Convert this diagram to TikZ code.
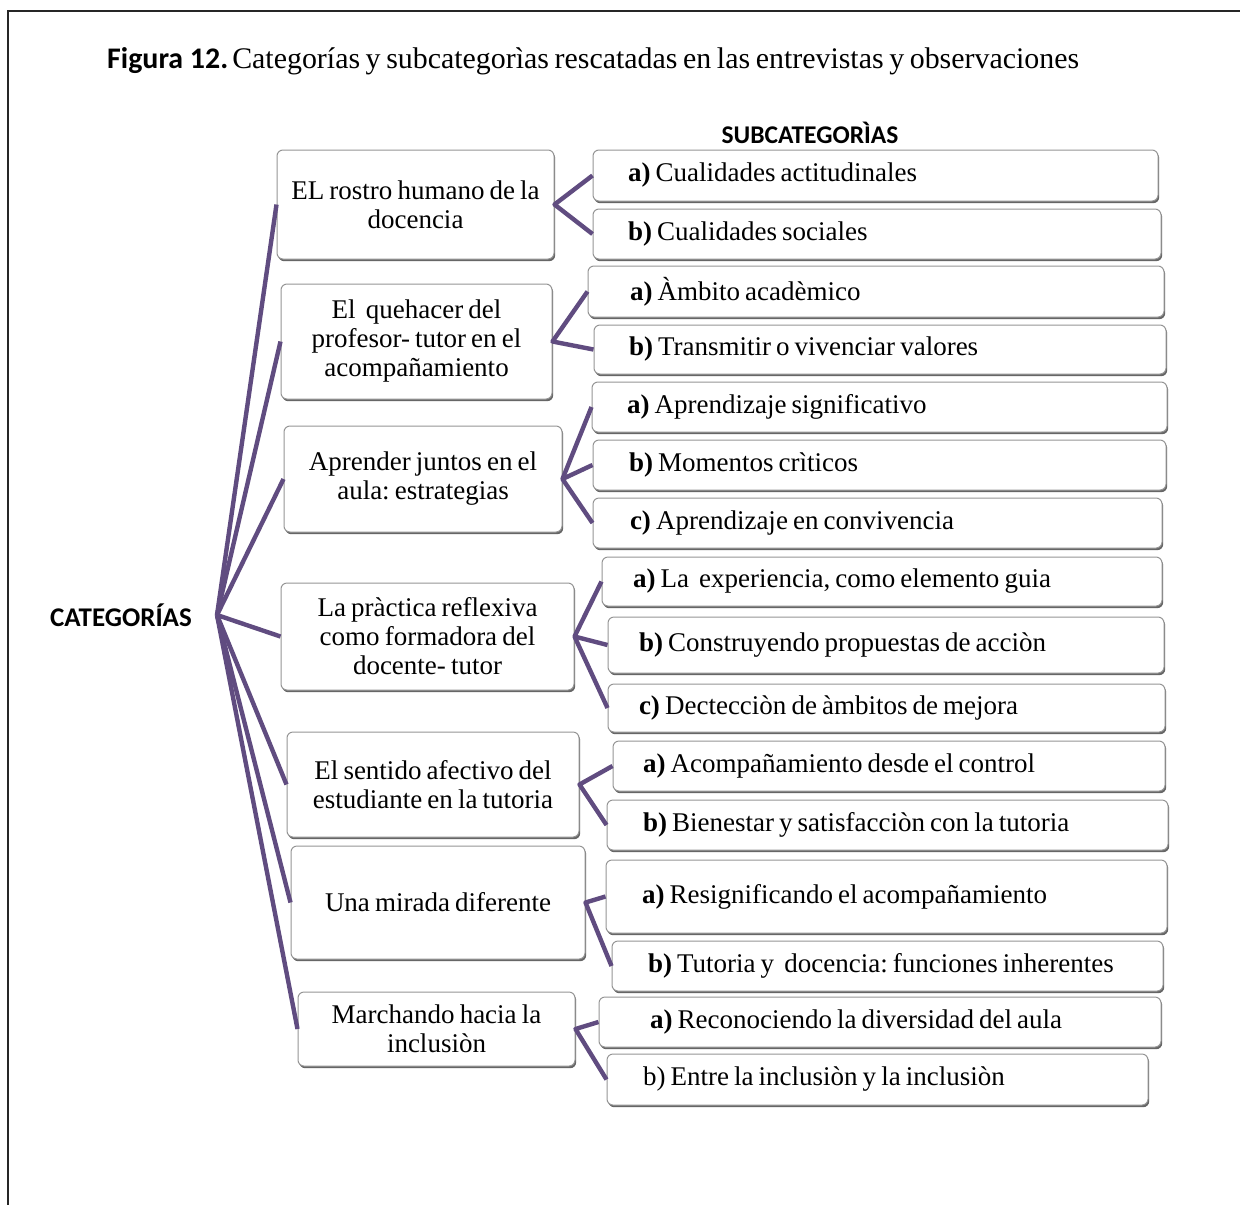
\documentclass[tikz,border=0pt]{standalone}
\usepackage{fontspec}
\setmainfont[WordSpace=0.75]{Liberation Serif}
\newfontfamily\calib{Carlito}
\usetikzlibrary{shadows}
\frenchspacing

\definecolor{linkpurple}{RGB}{96,76,128}
\definecolor{boxedge}{RGB}{150,150,150}

% plain interword spacing inside aligned node text
\newcommand\plainspaces{\spaceskip=0pt\xspaceskip=0pt\relax}

% subcategory box: name, left, top, right, bottom, text start x, text
\newcommand\subnode[7]{%
  \pgfmathsetmacro\subw{#4-#2}%
  \pgfmathsetmacro\subh{#5-#3}%
  \pgfmathsetmacro\subi{#6-#2}%
  \pgfmathsetmacro\subtw{\subw-2*\subi}%
  \node[subbox, minimum height=\subh pt, text width=\subtw pt, inner xsep=\subi pt]
    (#1) at ({(#2+#4)/2},{(#3+#5)/2}) {\plainspaces\mbox{#7}};}

% category box: name, left, top, right, bottom, text
\newcommand\catnode[6]{%
  \pgfmathsetmacro\catw{#4-#2}%
  \pgfmathsetmacro\cath{#5-#3}%
  \node[catbox, minimum width=\catw pt, minimum height=\cath pt]
    (#1) at ({(#2+#4)/2},{(#3+#5)/2}) {\plainspaces #6};}

\begin{document}
\begin{tikzpicture}[x=1pt,y=-1pt,
  basebox/.style={draw=boxedge, line width=1pt, fill=white, rounded corners=6pt,
    drop shadow={shadow xshift=1.2pt, shadow yshift=-2.2pt, fill=black!60, opacity=1}},
  catbox/.style={basebox, align=center, inner sep=0pt,
    font=\fontsize{27}{29}\selectfont},
  subbox/.style={basebox, align=left, inner ysep=0pt,
    font=\fontsize{27}{29}\selectfont},
  link/.style={draw=linkpurple, line width=4.4pt, line join=round},
  heading/.style={font=\calib\bfseries}]

\useasboundingbox (0,0) rectangle (1240,1205);
\fill[white] (0,0) rectangle (1240,1205);

% open frame
\draw[line width=2pt, black!85] (8,1205) -- (8,11) -- (1240,11);

% caption
\node[anchor=base west, inner sep=0pt, font=\fontsize{29.9}{32}\selectfont] (title) at (107,68)
  {{\calib\bfseries Figura 12.}\hspace{4pt}Categorías y subcategorìas rescatadas en las entrevistas y observaciones};

% headings
\node[heading, font=\calib\bfseries\fontsize{25.5}{28}\selectfont] (subhead) at (810,133) {SUBCATEGORÌAS};
\node[heading, font=\calib\bfseries\fontsize{27}{30}\selectfont] (cathead) at (121,615) {CATEGORÍAS};
\coordinate (hub) at (217,615);

% categories
\catnode{c1}{277}{150}{554}{259}{EL rostro humano de la\\docencia}
\catnode{c2}{281}{284}{552}{399}{El\ \ quehacer del\\profesor- tutor en el\\acompañamiento}
\catnode{c3}{284}{426}{562}{532}{Aprender juntos en el\\aula: estrategias}
\catnode{c4}{281}{583}{574}{690}{La pràctica reflexiva\\como formadora del\\docente- tutor}
\catnode{c5}{287}{732}{579}{837}{El sentido afectivo del\\estudiante en la tutoria}
\catnode{c6}{291}{846}{585}{959}{Una mirada diferente}
\catnode{c7}{298}{992}{575}{1066}{Marchando hacia la\\inclusiòn}

% subcategories
\subnode{s1a}{593}{150}{1158}{201}{628}{\textbf{a)} Cualidades actitudinales}
\subnode{s1b}{593}{209}{1161}{259}{628}{\textbf{b)} Cualidades sociales}
\subnode{s2a}{588}{266}{1164}{317}{630}{\textbf{a)} Àmbito acadèmico}
\subnode{s2b}{594}{325}{1166}{374}{629}{\textbf{b)} Transmitir o vivenciar valores}
\subnode{s3a}{592}{382}{1167}{432}{627}{\textbf{a)} Aprendizaje significativo}
\subnode{s3b}{593}{440}{1166}{490}{629}{\textbf{b)} Momentos crìticos}
\subnode{s3c}{593}{498}{1162}{548}{630}{\textbf{c)} Aprendizaje en convivencia}
\subnode{s4a}{602}{557}{1162}{606}{633}{\textbf{a)} La\ \ experiencia, como elemento guia}
\subnode{s4b}{608}{617}{1164}{673}{639}{\textbf{b)} Construyendo propuestas de acciòn}
\subnode{s4c}{608}{684}{1165}{732}{639}{\textbf{c)} Dectecciòn de àmbitos de mejora}
\subnode{s5a}{613}{741}{1165}{791}{643}{\textbf{a)} Acompañamiento desde el control}
\subnode{s5b}{607}{800}{1168}{850}{643}{\textbf{b)} Bienestar y satisfacciòn con la tutoria}
\subnode{s6a}{606}{860}{1167}{933}{642}{\textbf{a)} Resignificando el acompañamiento}
\subnode{s6b}{612}{941}{1163}{991}{648}{\textbf{b)} Tutoria y\ \ docencia: funciones inherentes}
\subnode{s7a}{599}{997}{1161}{1047}{650}{\textbf{a)} Reconociendo la diversidad del aula}
\subnode{s7b}{607}{1054}{1148}{1105}{643}{b) Entre la inclusiòn y la inclusiòn}

% hub to categories
\foreach \c in {c1,c2,c3,c4,c5,c6,c7}
  \draw[link] (hub) -- (\c.west);

% categories to subcategories
\draw[link] (s1a.west) -- (c1.east) -- (s1b.west);
\draw[link] (s2a.west) -- (c2.east) -- (s2b.west);
\draw[link] (s3a.west) -- (c3.east) -- (s3c.west);
\draw[link] (c3.east) -- (s3b.west);
\draw[link] (s4a.west) -- (c4.east) -- (s4c.west);
\draw[link] (c4.east) -- (s4b.west);
\draw[link] (s5a.west) -- (c5.east) -- (s5b.west);
\draw[link] (s6a.west) -- (c6.east) -- (s6b.west);
\draw[link] (s7a.west) -- (c7.east) -- (s7b.west);
\end{tikzpicture}
\end{document}
